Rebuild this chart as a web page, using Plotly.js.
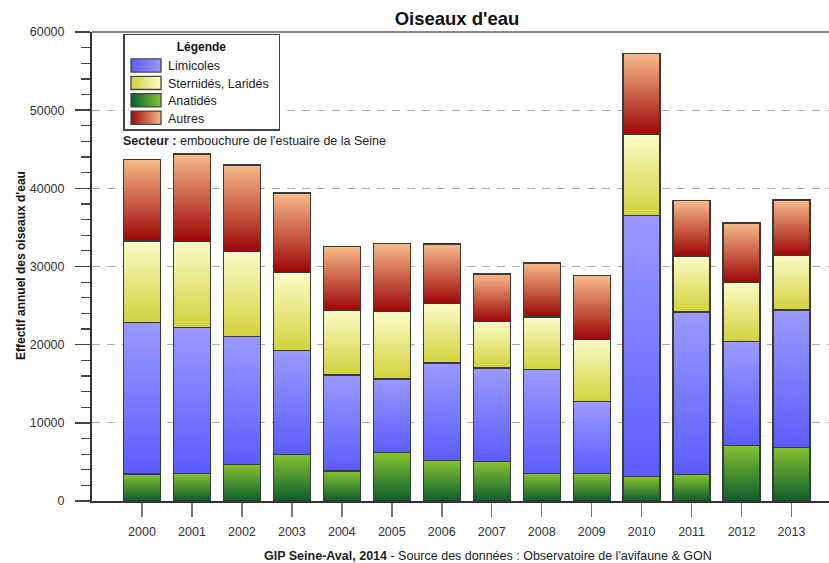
<!DOCTYPE html>
<html>
<head>
<meta charset="utf-8">
<script src="https://cdn.plot.ly/plotly-3.0.1.min.js"></script>
<style>html,body{margin:0;padding:0;background:#fff;}#chart{width:829px;height:563px;}</style>
</head>
<body>
<div id="chart"></div>
<script>
const years = [2000,2001,2002,2003,2004,2005,2006,2007,2008,2009,2010,2011,2012,2013];
const anatides = [3450,3540,4640,5920,3830,6180,5150,5030,3490,3540,3110,3370,7070,6820];
const limicoles = [19400,18670,16420,13320,12300,9440,12510,12000,13320,9150,33450,20810,13320,17610];
const sternides = [10430,11030,10860,10000,8220,8640,7580,5950,6730,7990,10290,7150,7530,6980];
const autres = [10430,11150,11060,10170,8200,8680,7620,6050,6890,8130,10390,7150,7660,7110];
const yTicks = [0,10000,20000,30000,40000,50000,60000];

const FONT = "Liberation Sans, Arial, sans-serif";
const outline = {color:'#3a3a3a', width:1.3};
function bar(name, y, color, rank){
  return {type:'bar', name:name, x:years, y:y, width:0.74, legendrank:rank,
    marker:{color:color, line:outline}, hoverinfo:'skip'};
}
const data = [
  bar('Anatidés', anatides, '#3f9436', 3),
  bar('Limicoles', limicoles, '#7b7bff', 1),
  bar('Sternidés, Laridés', sternides, '#e8e88a', 2),
  bar('Autres', autres, '#c85a40', 4)
];

const layout = {
  width:829, height:563,
  margin:{l:92, r:0, t:32, b:62},
  barmode:'stack', bargap:0.26,
  paper_bgcolor:'#fff', plot_bgcolor:'#fff',
  font:{family:FONT, size:12.5, color:'#333'},
  title:{text:"<b>Oiseaux d'eau</b>", font:{family:FONT, size:18.5, color:'#111'}, x:457/829, xanchor:'center', y:1-19/563, yanchor:'middle'},
  showlegend:true,
  legend:{x:(124-92)/737, y:1-(34-32)/469, xanchor:'left', yanchor:'top',
    bgcolor:'#fff', bordercolor:'#444', borderwidth:1.5,
    font:{family:FONT, size:12.5, color:'#222'},
    title:{text:'<b>Légende</b>', side:'top center', font:{family:FONT, size:12, color:'#111'}},
    traceorder:'normal', tracegroupgap:0, itemwidth:30},
  xaxis:{type:'linear', range:[1999, 2013.75], tickvals:years, ticktext:years.map(String),
    showgrid:false, zeroline:false, showline:true, linecolor:'#333', linewidth:2,
    ticks:'outside', ticklen:14, tickwidth:1.5, tickcolor:'#777',
    tickfont:{family:FONT, size:12.5, color:'#333'}, ticklabelstandoff:4, fixedrange:true},
  yaxis:{range:[0,60000], tickvals:yTicks, ticktext:yTicks.map(String),
    showgrid:true, gridcolor:'#acacac', gridwidth:1, griddash:'8px,7px',
    zeroline:false, showline:true, linecolor:'#333', linewidth:2,
    ticks:'outside', ticklen:15, tickwidth:1.5, tickcolor:'#444',
    minor:{dtick:2000, ticks:'outside', ticklen:9, tickwidth:1.2, tickcolor:'#444', showgrid:false},
    tickfont:{family:FONT, size:12.5, color:'#333'}, ticklabelstandoff:8, fixedrange:true},
  shapes:[{type:'line', xref:'paper', yref:'paper', x0:0, x1:1, y0:1, y1:1, line:{color:'#888', width:2}}],
  annotations:[
    {xref:'paper', yref:'paper', x:(121-92)/737, y:1-(141-32)/469, xanchor:'left', yanchor:'middle', showarrow:false,
     text:"<b>Secteur :</b> embouchure de l'estuaire de la Seine", font:{family:FONT, size:12.5, color:'#222'}},
    {xref:'paper', yref:'paper', x:(21-92)/737, y:1-(266-32)/469, xanchor:'center', yanchor:'middle', showarrow:false, textangle:-90,
     text:"<b>Effectif annuel des oiseaux d'eau</b>", font:{family:FONT, size:12, color:'#111'}},
    {xref:'paper', yref:'paper', x:(488-92)/737, y:1-(556-32)/469, xanchor:'center', yanchor:'middle', showarrow:false,
     text:"<b>GIP Seine-Aval, 2014</b> - Source des données : Observatoire de l'avifaune & GON", font:{family:FONT, size:12.5, color:'#222'}}
  ]
};

const grads = {
  'Anatidés': ['#86c232','#0b5e2c'],
  'Limicoles': ['#9a9aff','#5c5cff'],
  'Sternidés, Laridés': ['#fbfbc8','#d2d23c'],
  'Autres': ['#f8bb8a','#9c0606']
};

function shiftBy(el, dx, dy){
  const t = el.getAttribute('transform') || '';
  el.setAttribute('transform', t + ' translate(' + dx + ',' + dy + ')');
}

function applyGradients(gd){
  const NS = 'http://www.w3.org/2000/svg';
  const svg = gd.querySelector('.main-svg');
  let defs = svg.querySelector('defs');
  if(!defs){ defs = document.createElementNS(NS,'defs'); svg.insertBefore(defs, svg.firstChild); }
  const names = Object.keys(grads);
  names.forEach((n,i)=>{
    ['v','h'].forEach(dir=>{
      const lg = document.createElementNS(NS,'linearGradient');
      lg.setAttribute('id','grad_'+dir+i);
      lg.setAttribute('x1','0'); lg.setAttribute('y1','0');
      if(dir==='v'){ lg.setAttribute('x2','0'); lg.setAttribute('y2','1'); }
      else { lg.setAttribute('x2','1'); lg.setAttribute('y2','0'); }
      const c = dir==='v' ? grads[n] : [grads[n][1], grads[n][0]];
      const s1 = document.createElementNS(NS,'stop'); s1.setAttribute('offset','0'); s1.setAttribute('stop-color',c[0]);
      const s2 = document.createElementNS(NS,'stop'); s2.setAttribute('offset','1'); s2.setAttribute('stop-color',c[1]);
      lg.appendChild(s1); lg.appendChild(s2); defs.appendChild(lg);
    });
  });
  const traces = gd.querySelectorAll('.barlayer .trace');
  traces.forEach((t,i)=>{
    const n = gd.data[i].name; const idx = names.indexOf(n);
    t.querySelectorAll('path').forEach(p=>{ p.style.fill = 'url(#grad_v'+idx+')'; });
  });

  // legend: swatches and compact spacing like the reference
  const leg = gd.querySelector('.legend');
  if(!leg) return;
  const items = leg.querySelectorAll('.traces');
  items.forEach((tr,i)=>{
    const txtEl = tr.querySelector('.legendtext');
    const idx = names.indexOf(txtEl.textContent);
    const p = tr.querySelector('.legendpoints path');
    if(p){
      p.setAttribute('d','M15,6.6H-15V-6.6H15Z');
      if(idx>=0) p.style.fill = 'url(#grad_h'+idx+')';
      p.style.stroke = '#444'; p.style.strokeWidth = '1.3px';
      const r = p.getBoundingClientRect();
      const c = (r.top + r.bottom)/2;
      const cx = r.left;
      shiftBy(tr, 131 - cx, 65.5 + 17.4*i - c);
    }
    const tr2 = txtEl.getBoundingClientRect();
    shiftBy(txtEl, 168 - tr2.left, 0);
  });
  const bg = leg.querySelector('rect.bg');
  if(bg){
    const r = bg.getBoundingClientRect();
    const sx = parseFloat(bg.getAttribute('x')||0), sy = parseFloat(bg.getAttribute('y')||0);
    bg.setAttribute('x', sx + (124 - r.left));
    bg.setAttribute('y', sy + (34.5 - r.top));
    bg.setAttribute('width', 155.5);
    bg.setAttribute('height', 95.5);
  }
  const title = leg.querySelector('.legendtitletext');
  if(title){
    const r = title.getBoundingClientRect();
    shiftBy(title, 201.5 - (r.left + r.right)/2, 47 - (r.top + r.bottom)/2);
  }
  const clip = svg.querySelector('clipPath[id^="legend"] rect');
  if(clip){ clip.setAttribute('width', 400); clip.setAttribute('height', 400); }
}

Plotly.newPlot('chart', data, layout, {staticPlot:true, displayModeBar:false}).then(applyGradients);
</script>
</body>
</html>
